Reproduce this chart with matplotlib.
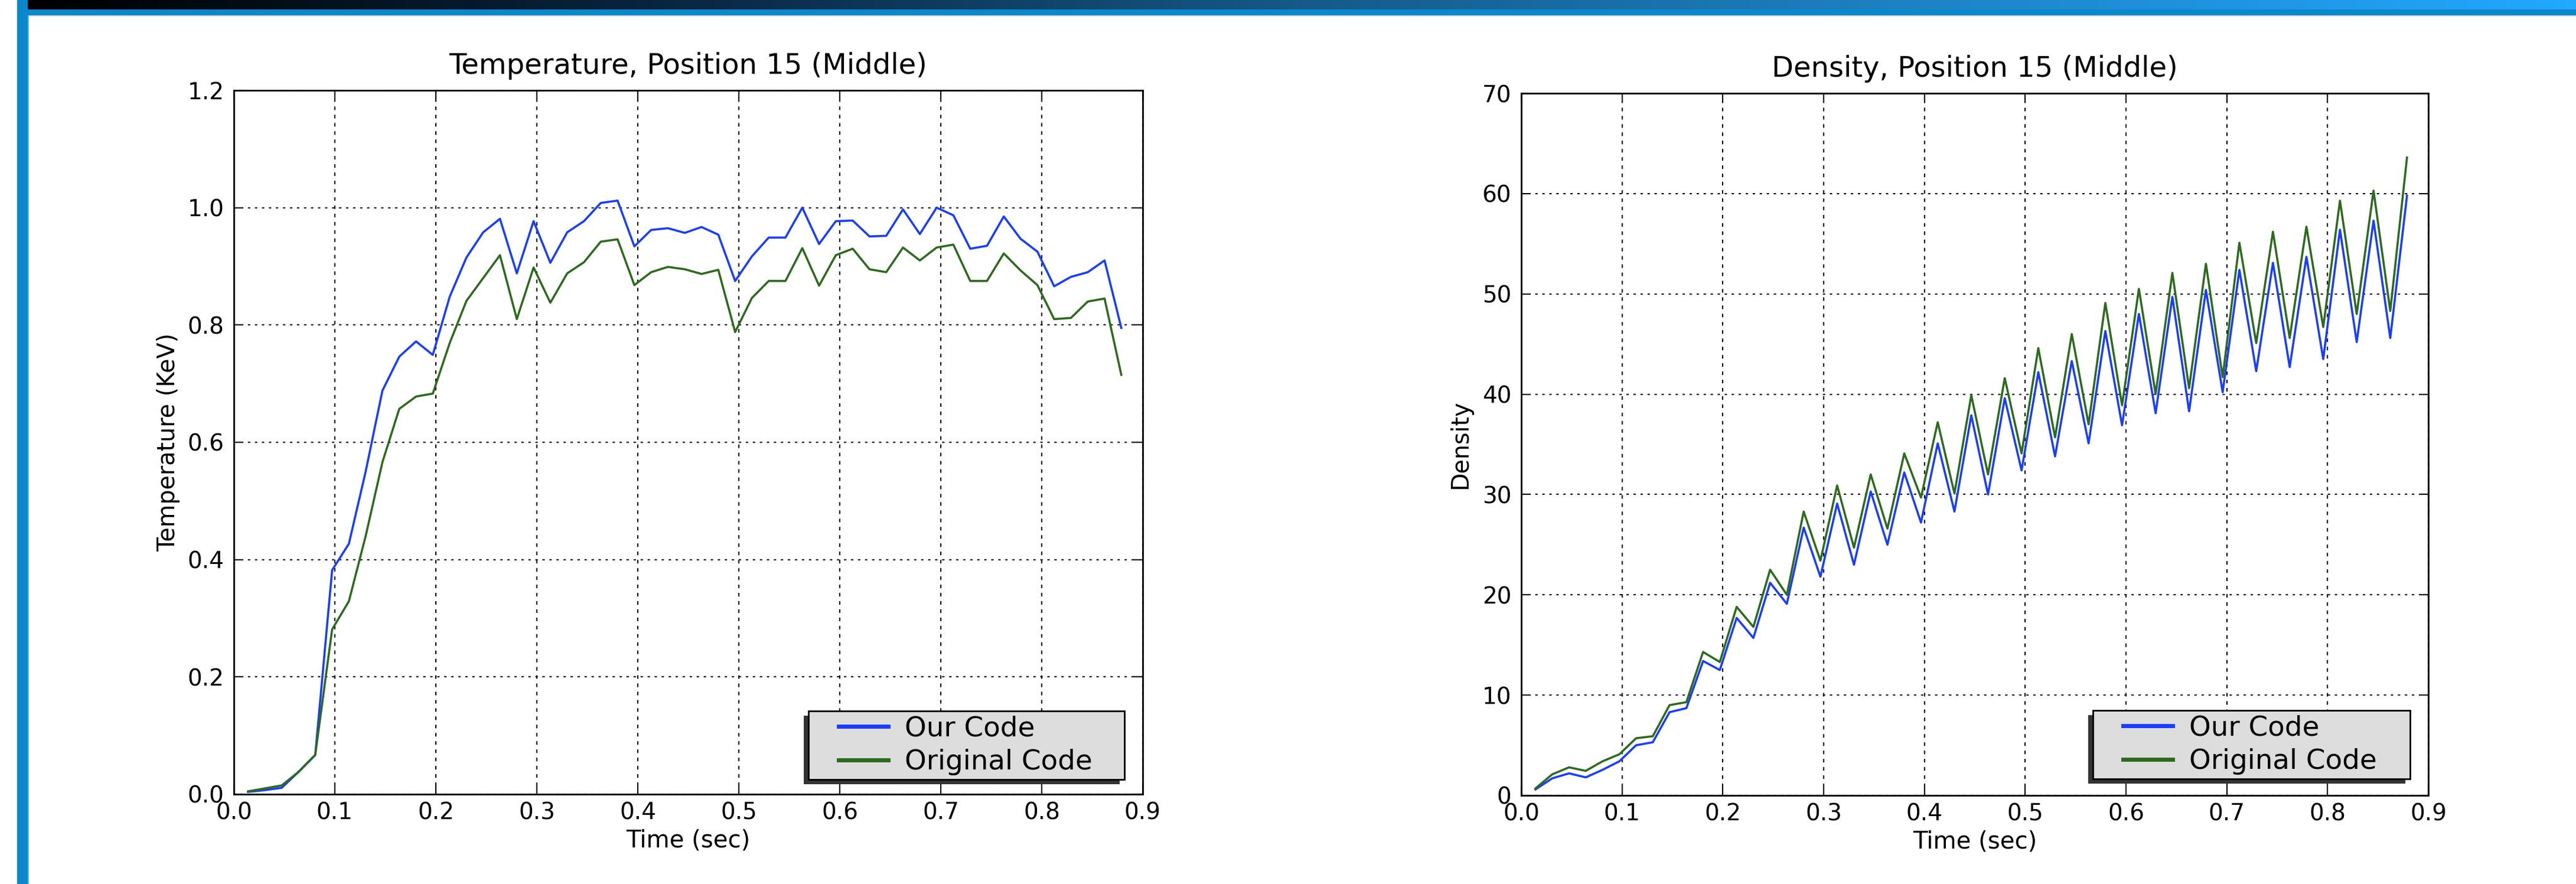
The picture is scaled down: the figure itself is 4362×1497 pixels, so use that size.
#recreate the temperature / density comparison slide
import numpy as np
import matplotlib
matplotlib.use('Agg')
import matplotlib.pyplot as plt
from matplotlib.patches import Rectangle
from matplotlib.lines import Line2D
from matplotlib.legend_handler import HandlerLine2D
from matplotlib.colors import LinearSegmentedColormap

#time samples (sec)
time = [0.0141, 0.0307, 0.0474, 0.0640, 0.0806, 0.0973, 0.1139, 0.1305, 0.1471, 0.1638,
        0.1804, 0.1970, 0.2137, 0.2303, 0.2469, 0.2635, 0.2802, 0.2968, 0.3134, 0.3301,
        0.3467, 0.3633, 0.3800, 0.3966, 0.4132, 0.4298, 0.4465, 0.4631, 0.4797, 0.4964,
        0.5130, 0.5296, 0.5462, 0.5629, 0.5795, 0.5961, 0.6128, 0.6294, 0.6460, 0.6626,
        0.6793, 0.6959, 0.7125, 0.7292, 0.7458, 0.7624, 0.7790, 0.7957, 0.8123, 0.8289,
        0.8456, 0.8622, 0.8788]

temp_ours = [0.004, 0.007, 0.011, 0.038, 0.067, 0.382, 0.427, 0.550, 0.688, 0.746,
             0.772, 0.749, 0.848, 0.915, 0.958, 0.981, 0.888, 0.977, 0.906, 0.958,
             0.977, 1.008, 1.012, 0.934, 0.962, 0.965, 0.957, 0.967, 0.954, 0.875,
             0.917, 0.949, 0.949, 1.000, 0.938, 0.977, 0.978, 0.951, 0.952, 0.997,
             0.955, 1.000, 0.987, 0.930, 0.935, 0.985, 0.947, 0.925, 0.866, 0.882,
             0.890, 0.910, 0.795]
temp_orig = [0.005, 0.010, 0.015, 0.038, 0.067, 0.281, 0.329, 0.440, 0.566, 0.657,
             0.678, 0.683, 0.769, 0.841, 0.880, 0.919, 0.810, 0.898, 0.838, 0.888,
             0.907, 0.942, 0.946, 0.868, 0.890, 0.899, 0.895, 0.887, 0.894, 0.788,
             0.846, 0.875, 0.875, 0.931, 0.867, 0.919, 0.930, 0.895, 0.890, 0.932,
             0.910, 0.932, 0.937, 0.875, 0.875, 0.922, 0.893, 0.868, 0.810, 0.812,
             0.840, 0.845, 0.715]

dens_ours = [0.6, 1.7, 2.2, 1.8, 2.55, 3.4, 5.0, 5.3, 8.3, 8.7,
             13.4, 12.5, 17.7, 15.7, 21.2, 19.1, 26.7, 21.8, 29.1, 23.0,
             30.3, 25.0, 32.2, 27.2, 35.1, 28.3, 37.9, 30.0, 39.6, 32.4,
             42.2, 33.8, 43.3, 35.1, 46.3, 36.9, 48.0, 38.1, 49.7, 38.3,
             50.4, 40.2, 52.4, 42.3, 53.1, 42.7, 53.7, 43.5, 56.4, 45.2,
             57.3, 45.6, 59.8]
dens_orig = [0.7, 2.1, 2.8, 2.45, 3.4, 4.1, 5.7, 5.9, 9.0, 9.3,
             14.3, 13.3, 18.8, 16.8, 22.5, 20.0, 28.3, 23.4, 30.9, 24.7,
             32.0, 26.6, 34.1, 29.7, 37.2, 30.1, 39.9, 32.0, 41.6, 34.1,
             44.6, 35.7, 46.0, 37.0, 49.1, 38.9, 50.5, 40.0, 52.1, 40.6,
             53.0, 41.7, 55.1, 45.1, 56.2, 45.6, 56.7, 46.7, 59.3, 48.0,
             60.3, 48.3, 63.6]

labels = ['Our Code', 'Original Code']
blue = '#1a3dff'
green = '#2d6a1e'

W, H = 4362, 1497
fig = plt.figure(figsize=(W / 100, H / 100), dpi=100)

#slide decoration: gradient bar on top, blue strip and blue left bar
bar = fig.add_axes([47 / W, 1 - 16 / H, 1 - 47 / W, 16 / H])
cmap = LinearSegmentedColormap.from_list('bar', ['#000000', '#0a2540', '#155a88', '#1e84c8', '#22a8ff'])
bar.imshow(np.linspace(0, 1, 512)[None, :], cmap=cmap, aspect='auto')
bar.axis('off')
fig.add_artist(Rectangle((29 / W, 1 - 26 / H), 1, 10 / H, transform=fig.transFigure, color='#0a88cc', lw=0))
fig.add_artist(Rectangle((29 / W, 1 - 28 / H), 1, 2 / H, transform=fig.transFigure, color='#d8d8d8', lw=0))
fig.add_artist(Rectangle((29 / W, 0), 18 / W, 1, transform=fig.transFigure, color='#0a88cc', lw=0))
fig.add_artist(Rectangle((47 / W, 0), 1.5 / W, 1 - 26 / H, transform=fig.transFigure, color='#5cb8ec', lw=0))

ax1 = fig.add_axes([396 / W, 1 - 1345 / H, 1539 / W, 1192 / H])
ax2 = fig.add_axes([2576 / W, 1 - 1347 / H, 1536 / W, 1189 / H])


def style(ax, ypad):
    ax.xaxis.grid(True, color='k', lw=1.5, linestyle=(0, (2.9, 3.8)))
    ax.yaxis.grid(True, color='k', lw=1.5, linestyle=(0, (1.9, 3.8)))
    ax.tick_params(direction='in', length=11.5, width=1.5, top=True, right=True, labelsize=28)
    ax.tick_params(axis='x', pad=9)
    ax.tick_params(axis='y', pad=ypad)
    for s in ax.spines.values():
        s.set_linewidth(2)
    ax.set_xlim(0, 0.9)
    ax.set_xticks(np.arange(0, 0.91, 0.1))
    ax.set_xticklabels(['%.1f' % v for v in np.arange(0, 0.91, 0.1)])


def add_legend(ax, x0, y0, w):
    hm = HandlerLine2D(numpoints=2, marker_pad=0.94)
    leg = ax.legend(labels, loc='lower left', bbox_to_anchor=(x0, y0, w, 0.1), mode='expand',
                    borderaxespad=0, borderpad=0.15, handlelength=3.68, handletextpad=-0.34,
                    labelspacing=0.25, fontsize=33.7, fancybox=False, framealpha=1,
                    facecolor='#dddddd', edgecolor='k', handler_map={Line2D: hm})
    leg.get_frame().set_linewidth(2)
    for l in leg.get_lines():
        l.set_linewidth(5)
    return leg


#temperature
ax1.plot(time, temp_ours, color=blue, lw=2.6)
ax1.plot(time, temp_orig, color=green, lw=2.6)
style(ax1, 12)
ax1.set_ylim(0, 1.2)
ax1.set_yticks(np.arange(0, 1.21, 0.2))
ax1.set_yticklabels(['%.1f' % v for v in np.arange(0, 1.21, 0.2)])
ax1.set_title('Temperature, Position 15 (Middle)', fontsize=34.6, pad=20)
ax1.set_xlabel('Time (sec)', fontsize=29, labelpad=6)
ax1.set_ylabel('Temperature (KeV)', fontsize=28.5, labelpad=9)
leg1 = add_legend(ax1, 0.632, 0.021, 0.348)

#density
ax2.plot(time, dens_ours, color=blue, lw=2.6)
ax2.plot(time, dens_orig, color=green, lw=2.6)
style(ax2, 12)
ax2.set_ylim(0, 70)
ax2.set_yticks(range(0, 71, 10))
ax2.set_title('Density, Position 15 (Middle)', fontsize=34.6, pad=20)
ax2.set_xlabel('Time (sec)', fontsize=29, labelpad=6)
ax2.set_ylabel('Density', fontsize=28.5, labelpad=12)
leg2 = add_legend(ax2, 0.630, 0.0235, 0.3496)

#legend shadows, offset down and to the left
fig.canvas.draw()
for ax, leg in [(ax1, leg1), (ax2, leg2)]:
    bb = leg.get_window_extent().translated(-8, -8).transformed(ax.transAxes.inverted())
    ax.add_artist(Rectangle((bb.x0, bb.y0), bb.width, bb.height, transform=ax.transAxes,
                            facecolor='#333333', lw=0, zorder=4.9))

fig.savefig('out.png', dpi=100)
